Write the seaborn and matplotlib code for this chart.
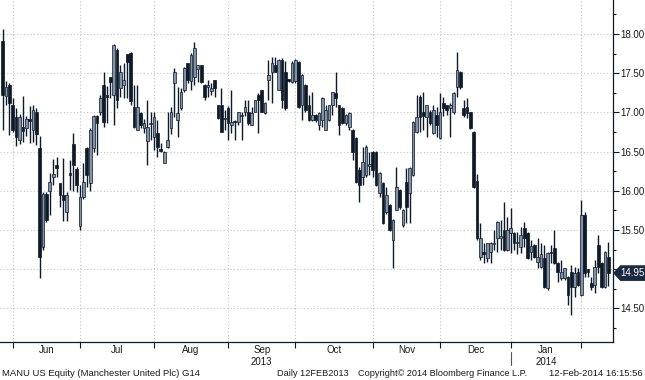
"""
MANU US Equity - daily candlestick chart (Bloomberg style)
"""

import numpy as np
import pandas as pd
import matplotlib
matplotlib.use('Agg')
import matplotlib.pyplot as plt
import matplotlib.transforms as mtransforms
from matplotlib.patches import Polygon
import seaborn as sns

# Daily OHLC, late May 2013 -> 12 Feb 2014
opens = [17.91, 17.21, 17.35, 17.09, 16.94, 16.65, 16.81, 16.80, 16.91, 16.78,
         17.00, 16.55, 15.28, 15.96, 16.00, 16.17, 16.33, 16.10, 15.95, 15.73,
         16.23, 16.60, 16.28, 15.55, 15.92, 16.55, 16.10, 16.55, 16.95, 17.00,
         17.35, 17.22, 17.45, 17.22, 17.80, 17.31, 17.35, 17.74, 17.76, 17.07,
         16.78, 16.99, 16.80, 16.63, 16.85, 16.69, 16.74, 16.53, 16.35, 16.56,
         16.80, 17.38, 16.90, 17.06, 17.29, 17.63, 17.40, 17.45, 17.55, 17.60,
         17.35, 17.33, 17.27, 17.41, 17.09, 17.09, 16.92, 17.06, 16.84, 16.89,
         16.88, 16.95, 17.01, 17.00, 16.84, 17.01, 17.22, 17.29, 16.99, 17.41,
         17.52, 17.61, 17.29, 17.67, 17.52, 17.42, 17.39, 17.40, 17.64, 17.09,
         17.35, 17.09, 16.90, 16.97, 16.84, 16.90, 16.78, 16.90, 17.09, 17.25,
         17.09, 17.05, 16.86, 16.81, 16.78, 16.67, 16.27, 16.18, 16.20, 16.32,
         16.50, 16.50, 15.97, 16.10, 15.73, 15.82, 15.37, 15.76, 16.01, 15.56,
         16.11, 15.97, 16.20, 16.75, 17.20, 17.00, 16.94, 17.00, 16.74, 16.97,
         16.67, 17.12, 17.09, 17.05, 17.00, 17.32, 17.52, 17.06, 17.07, 17.00,
         16.75, 16.13, 15.16, 15.22, 15.14, 15.22, 15.32, 15.40, 15.40, 15.50,
         15.24, 15.46, 15.46, 15.33, 15.28, 15.53, 15.46, 15.22, 15.31, 15.09,
         15.03, 15.14, 14.76, 15.22, 15.27, 15.08, 14.89, 14.89, 14.90, 14.96,
         14.77, 14.96, 14.67, 15.69, 15.00, 14.82, 14.80, 15.31, 15.08, 14.77,
         15.15]
highs = [18.07, 17.40, 17.37, 17.18, 17.06, 16.98, 17.21, 16.95, 17.08, 17.10,
         17.05, 16.70, 15.98, 15.99, 16.23, 16.41, 16.43, 16.10, 16.42, 15.98,
         16.39, 16.74, 16.30, 16.08, 16.35, 16.56, 16.80, 16.97, 16.97, 17.22,
         17.52, 17.34, 17.45, 17.87, 17.82, 17.60, 17.63, 17.75, 17.77, 17.35,
         17.35, 17.00, 16.92, 17.16, 17.00, 17.00, 16.90, 16.61, 16.51, 17.00,
         17.07, 17.57, 17.32, 17.31, 17.58, 17.63, 17.76, 17.90, 17.61, 17.61,
         17.36, 17.41, 17.38, 17.41, 17.10, 17.31, 17.03, 17.08, 17.29, 16.90,
         17.01, 17.00, 17.16, 17.16, 17.07, 17.16, 17.25, 17.29, 17.13, 17.67,
         17.71, 17.71, 17.68, 17.69, 17.65, 17.43, 17.65, 17.68, 17.65, 17.49,
         17.36, 17.22, 17.26, 16.98, 17.00, 17.20, 17.10, 17.10, 17.26, 17.52,
         17.10, 17.07, 16.98, 17.00, 16.79, 16.68, 16.30, 16.56, 16.58, 16.50,
         16.51, 16.51, 16.24, 16.11, 16.05, 15.83, 15.64, 16.30, 16.02, 15.77,
         16.29, 16.30, 16.89, 17.22, 17.22, 17.26, 17.10, 17.03, 17.10, 17.07,
         17.25, 17.20, 17.10, 17.12, 17.26, 17.77, 17.53, 17.16, 17.18, 17.00,
         16.76, 16.22, 15.59, 15.33, 15.34, 15.35, 15.50, 15.62, 15.63, 15.86,
         15.67, 15.78, 15.47, 15.47, 15.54, 15.60, 15.47, 15.37, 15.32, 15.40,
         15.33, 15.31, 15.22, 15.31, 15.50, 15.09, 15.12, 15.02, 14.91, 15.05,
         15.03, 15.02, 15.88, 15.73, 15.00, 14.90, 15.12, 15.44, 15.09, 15.23,
         15.35]
lows = [16.78, 17.10, 16.71, 16.75, 16.57, 16.60, 16.62, 16.70, 16.61, 16.62,
        16.58, 14.89, 15.24, 15.60, 15.69, 16.07, 16.18, 15.79, 15.62, 15.62,
        16.01, 16.00, 15.98, 15.50, 15.90, 16.05, 16.00, 16.50, 16.46, 16.97,
        16.81, 16.87, 17.18, 16.84, 17.06, 17.20, 17.18, 17.18, 17.10, 16.80,
        16.77, 16.80, 16.74, 16.33, 16.65, 16.52, 16.43, 16.49, 16.35, 16.55,
        16.73, 16.94, 16.69, 17.03, 17.26, 17.37, 17.29, 17.35, 17.39, 17.38,
        17.16, 17.20, 17.22, 17.20, 16.92, 16.75, 16.78, 16.65, 16.74, 16.65,
        16.84, 16.65, 16.95, 16.84, 16.84, 17.00, 16.74, 17.00, 16.98, 17.16,
        17.12, 17.51, 17.28, 17.06, 17.03, 17.39, 17.38, 17.38, 17.06, 16.90,
        17.00, 16.89, 16.89, 16.88, 16.78, 16.81, 16.78, 16.89, 16.97, 17.07,
        16.71, 16.85, 16.84, 16.78, 16.39, 16.10, 15.86, 16.07, 16.18, 16.20,
        16.18, 16.06, 15.92, 15.58, 15.71, 15.49, 15.01, 15.75, 15.77, 15.54,
        15.59, 15.59, 16.19, 16.74, 16.75, 16.78, 16.69, 16.84, 16.73, 16.69,
        16.66, 16.95, 16.97, 16.69, 16.98, 17.20, 17.30, 16.94, 16.93, 16.79,
        16.04, 15.37, 15.12, 15.08, 15.09, 15.08, 15.24, 15.22, 15.24, 15.23,
        15.23, 15.21, 15.24, 15.20, 15.21, 15.28, 15.13, 15.12, 15.14, 15.01,
        15.02, 14.76, 14.73, 15.08, 15.07, 14.84, 14.86, 14.86, 14.54, 14.42,
        14.65, 14.79, 14.66, 14.90, 14.90, 14.73, 14.70, 14.95, 14.76, 14.76,
        14.78]
closes = [17.22, 17.32, 17.12, 16.78, 16.69, 16.94, 16.76, 16.92, 16.89, 17.03,
          16.72, 15.16, 15.96, 15.63, 16.11, 16.22, 16.29, 15.95, 15.88, 15.95,
          16.20, 16.33, 16.07, 15.92, 16.11, 16.20, 16.78, 16.95, 16.86, 17.18,
          16.88, 17.20, 17.39, 17.86, 17.16, 17.52, 17.41, 17.64, 17.15, 16.81,
          17.07, 16.84, 16.87, 16.82, 16.87, 16.94, 16.56, 16.51, 16.50, 16.65,
          17.00, 17.52, 16.99, 17.26, 17.57, 17.41, 17.73, 17.82, 17.60, 17.39,
          17.20, 17.35, 17.31, 17.31, 16.93, 16.75, 16.93, 16.87, 16.88, 16.88,
          17.00, 16.95, 17.07, 16.87, 16.99, 17.16, 17.16, 17.01, 17.12, 17.48,
          17.63, 17.52, 17.67, 17.16, 17.06, 17.40, 17.63, 17.67, 17.07, 17.48,
          17.03, 16.90, 16.97, 16.90, 16.99, 17.18, 17.03, 17.09, 17.26, 17.18,
          16.84, 16.86, 16.97, 16.99, 16.50, 16.11, 16.07, 16.37, 16.56, 16.34,
          16.27, 16.07, 16.23, 15.59, 15.95, 15.50, 15.63, 16.05, 15.79, 15.76,
          15.79, 16.29, 16.88, 16.94, 16.94, 16.96, 17.09, 16.86, 17.03, 16.84,
          17.00, 17.06, 17.03, 17.09, 17.25, 17.54, 17.32, 16.97, 16.99, 16.80,
          16.05, 15.40, 15.40, 15.19, 15.33, 15.33, 15.34, 15.60, 15.42, 15.24,
          15.50, 15.52, 15.33, 15.34, 15.43, 15.40, 15.14, 15.29, 15.16, 15.16,
          15.20, 14.77, 15.21, 15.21, 15.08, 14.96, 14.96, 15.01, 14.67, 14.77,
          14.95, 14.80, 15.69, 14.95, 14.96, 14.77, 15.03, 15.03, 14.77, 15.22,
          14.95]

# first trading day of each month (bar index) and the month names between them
month_starts = [3, 23, 45, 67, 87, 110, 130, 151, 172]
month_names = ['Jun', 'Jul', 'Aug', 'Sep', 'Oct', 'Nov', 'Dec', 'Jan']
year_names = {'Sep': '2013', 'Jan': '2014'}
price_ticks = [14.5, 15.0, 15.5, 16.0, 16.5, 17.0, 17.5, 18.0]
last_price = 14.95

df = pd.DataFrame({'open': opens, 'high': highs, 'low': lows, 'close': closes})
df['day'] = np.arange(len(df))
df['up'] = df['close'] >= df['open']

DARK = '#0e1a28'
UP_FILL = '#8293a7'
GRID = '#c4c4c4'
TXT = '#1a1a1a'

sns.set_theme(style='white')
plt.rcParams['font.family'] = ['Liberation Sans', 'DejaVu Sans']

fig = plt.figure(figsize=(6.45, 3.8), dpi=100)
ax = fig.add_axes([0, 0.1, 613 / 645, 0.9])

# wicks + bodies
ax.vlines(df['day'], df['low'], df['high'], color=DARK, lw=1.0, zorder=2)
body_bottom = df[['open', 'close']].min(axis=1)
body_height = (df['close'] - df['open']).abs().clip(lower=0.012)
body_colors = np.where(df['up'], UP_FILL, DARK)
ax.bar(df['day'], body_height, bottom=body_bottom, width=0.8,
       color=body_colors, edgecolor=DARK, linewidth=0.5, zorder=3)

ax.set_xlim(-0.8, 181.4)
ax.set_ylim(14.071, 18.434)

# y axis on the right; the 15.00 label sits under the last-price tag
ax.yaxis.tick_right()
ax.set_yticks(price_ticks)
ax.set_yticklabels(['' if abs(v - last_price) < 0.2 else f'{v:.2f}' for v in price_ticks])
ax.set_yticks(np.arange(14.25, 18.5, 0.5), minor=True)
ax.tick_params(axis='y', which='major', right=True, length=4, width=0.8,
               color=DARK, pad=1.5, labelsize=7, labelcolor=TXT)
ax.tick_params(axis='y', which='minor', right=True, length=2.5, width=0.8, color=DARK)

# x axis: gridlines/ticks at month starts, names in between
mids = [(a + b) / 2 for a, b in zip(month_starts[:-1], month_starts[1:])]
ax.set_xticks(month_starts)
ax.set_xticklabels([])
ax.set_xticks(mids, minor=True)
ax.set_xticklabels(month_names, minor=True)
ax.tick_params(axis='x', which='major', bottom=True, length=4, width=0.8, color=DARK)
ax.tick_params(axis='x', which='minor', bottom=True, length=0, pad=2.5,
               labelsize=7, labelcolor=TXT)

ax.grid(True, which='major', linestyle=(0, (1, 2)), color=GRID, linewidth=0.8)
ax.set_axisbelow(True)

for side in ['top', 'left']:
    ax.spines[side].set_visible(False)
for side in ['right', 'bottom']:
    ax.spines[side].set_color(DARK)
    ax.spines[side].set_linewidth(0.9)

blend = mtransforms.blended_transform_factory(ax.transData, ax.transAxes)
for name, mid in zip(month_names, mids):
    if name in year_names:
        ax.text(mid, -0.058, year_names[name], transform=blend, ha='center',
                va='center', fontsize=7, color=TXT)
ax.plot([month_starts[7], month_starts[7]], [-0.029, -0.066], transform=blend,
        color='#555555', lw=0.8, clip_on=False)

# last price tag
tag = mtransforms.blended_transform_factory(ax.transAxes, ax.transData)
ax.add_patch(Polygon([(1.0, last_price), (1.012, last_price + 0.10),
                      (1.06, last_price + 0.10), (1.06, last_price - 0.10),
                      (1.012, last_price - 0.10)], closed=True,
                     facecolor='#1b2a40', edgecolor='none', transform=tag,
                     clip_on=False, zorder=10))
ax.text(1.031, last_price, f'{last_price:.2f}', transform=tag, ha='center',
        va='center', fontsize=7, color='white', zorder=11)

# footer
fy = 1 - 373 / 380
fig.text(2 / 645, fy, 'MANU US Equity (Manchester United Plc) G14', fontsize=6.8,
         va='center', ha='left', color=TXT)
fig.text(277 / 645, fy, 'Daily 12FEB2013', fontsize=6.6, va='center', ha='left', color=TXT)
fig.text(358 / 645, fy, 'Copyright\u00a9 2014 Bloomberg Finance L.P.', fontsize=6.6,
         va='center', ha='left', color=TXT)
fig.text(643 / 645, fy, '12-Feb-2014 16:15:56', fontsize=6.8, va='center', ha='right',
         color=TXT)

fig.savefig('out.png', dpi=100)
print('saved out.png', len(df), 'bars')
